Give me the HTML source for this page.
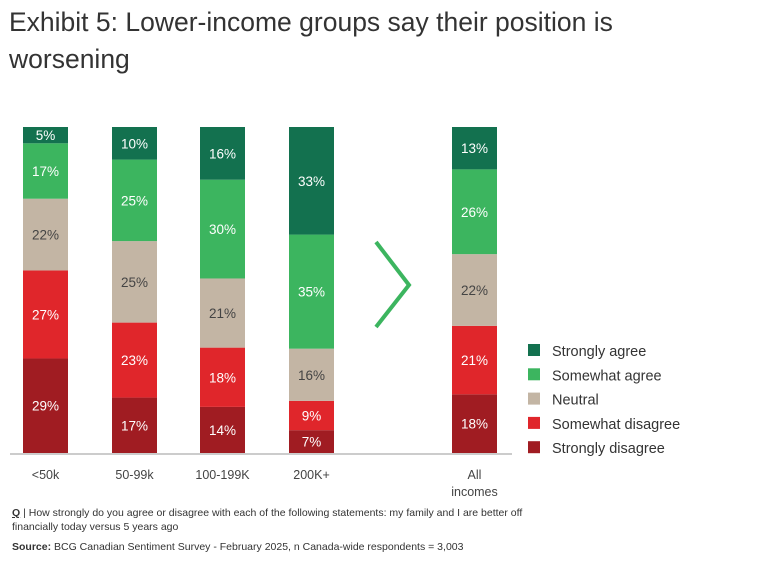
<!DOCTYPE html>
<html><head><meta charset="utf-8"><style>
body{margin:0;background:#fff;font-family:"Liberation Sans",sans-serif;}
#wrap{position:relative;width:768px;height:567px;overflow:hidden;}
h1{position:absolute;left:9px;top:4px;margin:0;font-weight:normal;font-size:26.5px;line-height:37px;color:#333;width:660px;}
.note{position:absolute;left:12px;font-size:10.5px;color:#333;line-height:14px;}
</style></head><body><div id="wrap">
<h1>Exhibit 5: Lower-income groups say their position is worsening</h1>
<svg id="chart" width="768" height="567" style="position:absolute;left:0;top:0"></svg>
<div class="note" style="top:506px;width:548px"><b style="text-decoration:underline">Q</b> | How strongly do you agree or disagree with each of the following statements: my family and I are better off financially today versus 5 years ago</div>
<div class="note" style="top:540px"><b>Source:</b> BCG Canadian Sentiment Survey - February 2025, n Canada-wide respondents = 3,003</div>
</div>
<script>
const categories=["<50k","50-99k","100-199K","200K+","All incomes"];
const seriesNames=["Strongly disagree","Somewhat disagree","Neutral","Somewhat agree","Strongly agree"];
const stronglyDisagree=[29,17,14,7,18];
const somewhatDisagree=[27,23,18,9,21];
const neutral=[22,25,21,16,22];
const somewhatAgree=[17,25,30,35,26];
const stronglyAgree=[5,10,16,33,13];
const series=[stronglyDisagree,somewhatDisagree,neutral,somewhatAgree,stronglyAgree];
const colors=["#a01c22","#e0262b","#c3b5a4","#3cb55f","#13714f"];
const barX=[23,112,200,289,452],barW=45,base=453,top0=127;
const svg=document.getElementById('chart');const NS="http://www.w3.org/2000/svg";
function y(v){return base-v*(base-top0)/100;}
function mk(t,a){const e=document.createElementNS(NS,t);for(const k in a)e.setAttribute(k,a[k]);svg.appendChild(e);return e;}
categories.forEach((c,i)=>{
  let tot=series.reduce((s,a)=>s+a[i],0);let scale=100/tot;let acc=0;
  series.forEach((arr,j)=>{
    const v=arr[i]*scale;const y1=y(acc+v),y0=y(acc);acc+=v;
    const r=mk('rect',{x:barX[i],y:y1,width:barW,height:y0-y1,fill:colors[j]});
    
    
    const t=mk('text',{x:barX[i]+barW/2,y:(y0+y1)/2+5,'text-anchor':'middle','font-size':'13.5',fill:j==2?'#444':'#fff'});
    t.textContent=arr[i]+'%';
    
    
  });
  const lines=c=="All incomes"?["All","incomes"]:[c];
  lines.forEach((l,k)=>{const t=mk('text',{x:barX[i]+barW/2,y:479+k*17,'text-anchor':'middle','font-size':'12.5',fill:'#444'});t.textContent=l;
    
    });
});
const ax=mk('line',{x1:10,x2:512,y1:454,y2:454,stroke:'#bbb','stroke-width':1.5});


const ch=mk('polyline',{points:'376,242 409,285 376,327',fill:'none',stroke:'#3cb55f','stroke-width':4});


for(let j=4;j>=0;j--){const k=4-j;const yy=351+k*24.3;
  const r=mk('rect',{x:528,y:yy-7,width:12,height:12,fill:colors[j]});
  
  
  const t=mk('text',{x:552,y:yy+5,'font-size':'14.5',fill:'#333'});t.textContent=seriesNames[j];
  
  }
</script></body></html>
